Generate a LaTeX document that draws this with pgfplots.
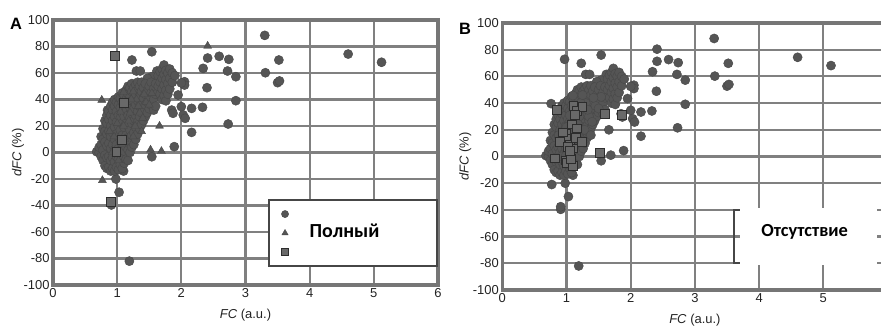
\documentclass[border=0pt]{standalone}
\usepackage{pgfplots}
\pgfplotsset{compat=1.18}
\usepackage{pgfplotstable}
\usepackage{fontspec}
\setmainfont{Liberation Sans}
\newfontfamily\carlito{Carlito}
\definecolor{framegray}{RGB}{118,118,118}
\definecolor{gridgray}{RGB}{128,128,128}
\definecolor{markgray}{RGB}{85,85,85}
\definecolor{markedge}{RGB}{72,72,72}
\definecolor{sqfill}{RGB}{105,105,105}
\definecolor{sqedge}{RGB}{45,45,45}
\definecolor{txt}{RGB}{35,35,35}
\definecolor{boxedge}{RGB}{70,70,70}

\pgfplotstableread{
x y
3.30 88.4
4.60 74.3
5.12 68.1
3.52 69.8
3.31 60.2
3.50 52.7
3.53 54
2.41 71.3
2.59 72.6
2.74 70.3
2.34 63.5
2.72 61.5
2.85 57.2
2.40 48.9
2.05 53.4
2.05 50.9
2.00 52.5
1.95 43.4
2.85 39.1
2.16 33.3
2.33 34.1
2.00 34.6
2.03 28.3
2.06 25.8
2.73 21.5
2.16 15.2
1.85 32
1.87 29.6
1.89 4.4
1.54 -3.2
1.54 76
1.62 61.5
1.23 69.8
1.30 61.5
1.36 61.5
1.19 -82
1.03 -30
0.98 -20
1.10 -14
0.91 -39.6
0.68 0.6
0.85 32
1.54 57.2
1.47 56
0.72 0
0.72 4
0.75 -3
0.75 6
0.75 12
0.78 -6
0.78 2
0.78 10
0.78 18
0.81 -10
0.81 -2
0.81 8
0.81 16
0.81 24
0.84 -12
0.84 -4
0.84 5
0.84 14
0.84 22
0.84 28
0.87 -11
0.87 -3
0.87 7
0.87 16
0.87 25
0.87 31
0.90 -14
0.90 -6
0.90 3
0.90 12
0.90 20
0.90 28
0.90 35
0.93 -12
0.93 -4
0.93 6
0.93 15
0.93 24
0.93 32
0.93 38
0.96 -14
0.96 -7
0.96 2
0.96 10
0.96 19
0.96 27
0.96 35
0.96 40
0.99 -11
0.99 -3
0.99 6
0.99 14
0.99 23
0.99 31
0.99 38
1.02 -13
1.02 -5
1.02 3
1.02 12
1.02 20
1.02 28
1.02 36
1.02 42
1.05 -9
1.05 0
1.05 9
1.05 17
1.05 26
1.05 34
1.05 41
1.08 -12
1.08 -4
1.08 5
1.08 13
1.08 22
1.08 30
1.08 38
1.08 45
1.11 -8
1.11 1
1.11 10
1.11 19
1.11 27
1.11 35
1.11 43
1.14 -5
1.14 4
1.14 13
1.14 22
1.14 31
1.14 40
1.14 47
1.17 -6
1.17 2
1.17 11
1.17 20
1.17 28
1.17 36
1.17 44
1.17 50
1.20 0
1.20 9
1.20 17
1.20 26
1.20 34
1.20 42
1.20 49
1.23 4
1.23 13
1.23 22
1.23 31
1.23 39
1.23 46
1.23 52
1.26 6
1.26 15
1.26 24
1.26 33
1.26 41
1.26 49
1.29 10
1.29 19
1.29 28
1.29 36
1.29 44
1.29 51
1.32 14
1.32 23
1.32 31
1.32 39
1.32 47
1.32 53
1.35 18
1.35 27
1.35 35
1.35 43
1.35 50
1.38 21
1.38 30
1.38 38
1.38 46
1.38 53
1.41 24
1.41 33
1.41 41
1.41 49
1.44 27
1.44 36
1.44 44
1.44 52
1.47 30
1.47 38
1.47 46
1.50 33
1.50 42
1.50 50
1.53 36
1.53 45
1.53 53
1.57 32
1.57 40
1.57 48
1.60 35
1.60 44
1.60 52
1.64 50
1.64 58
1.67 44
1.67 53
1.67 61
1.70 40
1.70 48
1.70 56
1.70 63
1.73 43
1.73 51
1.73 59
1.73 66
1.76 39
1.76 47
1.76 55
1.76 62
1.79 44
1.79 52
1.79 60
1.82 48
1.82 56
1.82 63
1.86 53
1.86 60
1.90 58
}\circA

\pgfplotstableread{
x y
2.41 80.4
0.76 39.6
0.77 -21
1.66 20
1.52 2
1.69 1
1.10 45.7
1.54 44.7
1.05 30.8
0.95 12
1.00 22
1.10 20
1.15 38
1.20 30
1.25 12
1.30 40
1.35 30
1.40 26
1.45 38
1.08 6
1.18 24
1.28 20
0.92 0
1.12 10
1.22 40
1.33 35
1.42 44
0.88 16
1.50 36
1.02 -6
1.38 16
1.25 46
}\triA

\pgfplotstableread{
x y
0.97 72.8
1.11 37.6
1.08 9.4
0.99 0.6
0.91 -37.6
}\sqA

\pgfplotstableread{
x y
0.85 35
1.11 38
1.16 34
1.25 37
1.13 31
1.60 32
1.86 31
1.08 24
1.00 17
1.16 21
0.99 13
1.05 9
1.10 6
1.15 14
1.24 11
0.90 11
1.02 7
0.82 -1.5
0.99 -3
1.00 -5
1.10 -7
1.07 -2
1.52 2.5
1.05 4
0.95 18
}\sqB

\pgfplotsset{
  panel/.style={
    scale only axis, xmin=0, xmax=6, ymin=-100, ymax=100,
    ytick={-100,-80,-60,-40,-20,0,20,40,60,80,100},
    grid=major, major tick length=0pt,
    axis line style={line width=3.5bp, framegray},
    every axis grid/.style={line width=2.2bp, gridgray},
    tick label style={font=\fontsize{13}{15}\selectfont, text=txt},
    label style={font=\fontsize{13}{15}\selectfont, text=txt},
    /pgf/number format/assume math mode=true,
  },
  circ/.style={only marks, mark=*, mark size=4.6bp, mark options={fill=markgray, draw=markedge, line width=0.4bp}},
  tri/.style={only marks, mark=triangle*, mark size=4.6bp, mark options={fill=markgray, draw=markedge, line width=0.4bp}},
  sq/.style={only marks, mark=square*, mark size=4.4bp, mark options={fill=sqfill, draw=sqedge, line width=1bp}},
}

\begin{document}
\begin{tikzpicture}
\useasboundingbox (0,0) rectangle (881bp,327bp);

% Panel A
\begin{axis}[panel,
  at={(53bp,42bp)}, anchor=south west, width=385bp, height=265bp,
  xtick={0,1,2,3,4,5,6},
  xlabel={\textit{FC} (a.u.)}, ylabel={\textit{dFC} (\%)},
  xlabel style={at={(axis description cs:0.5,-0.1132)}, anchor=center},
  ylabel style={at={(axis description cs:-0.0909,0.5)}, anchor=center},
  legend cell align=left,
  legend image code/.code={\draw[#1, mark size=3.6bp] plot coordinates {(0bp,0bp)};},
  legend style={draw=none, fill=none, inner sep=0pt, outer sep=0pt,
    at={(axis cs:3.56,-60.8)}, anchor=west, row sep=0pt,
    /tikz/every odd column/.append style={column sep=21bp},
    nodes={inner sep=0pt, text height=13.9bp, text depth=5.1bp,
      font=\carlito\bfseries\fontsize{20}{22}\selectfont, text=black}},
]
\draw[fill=white, draw=boxedge, line width=1.8bp] (axis cs:3.37,-35.8) rectangle (axis cs:5.98,-85.7);
\addplot[circ] table {\circA};
\addlegendentry{}
\addplot[tri] table {\triA};
\addlegendentry{Полный}
\addplot[sq] table {\sqA};
\addlegendentry{}
\end{axis}

% Panel B
\begin{axis}[panel,
  at={(502.3bp,37bp)}, anchor=south west, width=385.2bp, height=267bp,
  xtick={0,1,2,3,4,5},
  xlabel={\textit{FC} (a.u.)}, ylabel={\textit{dFC} (\%)},
  xlabel style={at={(axis description cs:0.5,-0.1124)}, anchor=center},
  ylabel style={at={(axis description cs:-0.096,0.5)}, anchor=center},
]
\addplot[circ] table {\circA};
\addplot[circ] table {\triA};
\addplot[circ] table {\sqA};
\addplot[sq] table {\sqB};
\fill[white] (axis cs:3.70,-38.6) rectangle (axis cs:5.84,-81.3);
\draw[line width=1.8bp, boxedge] (axis cs:3.70,-40) -- (axis cs:3.61,-40) -- (axis cs:3.61,-80) -- (axis cs:3.70,-80);
\node[font=\carlito\bfseries\fontsize{18.5}{20}\selectfont, text=black] at (axis cs:4.71,-56.6) {Отсутствие};
\end{axis}

\node[font=\fontsize{16.5}{18}\selectfont\bfseries, text=black] at (16bp,303bp) {A};
\node[font=\fontsize{16.5}{18}\selectfont\bfseries, text=black] at (465bp,298bp) {B};
\end{tikzpicture}
\end{document}
